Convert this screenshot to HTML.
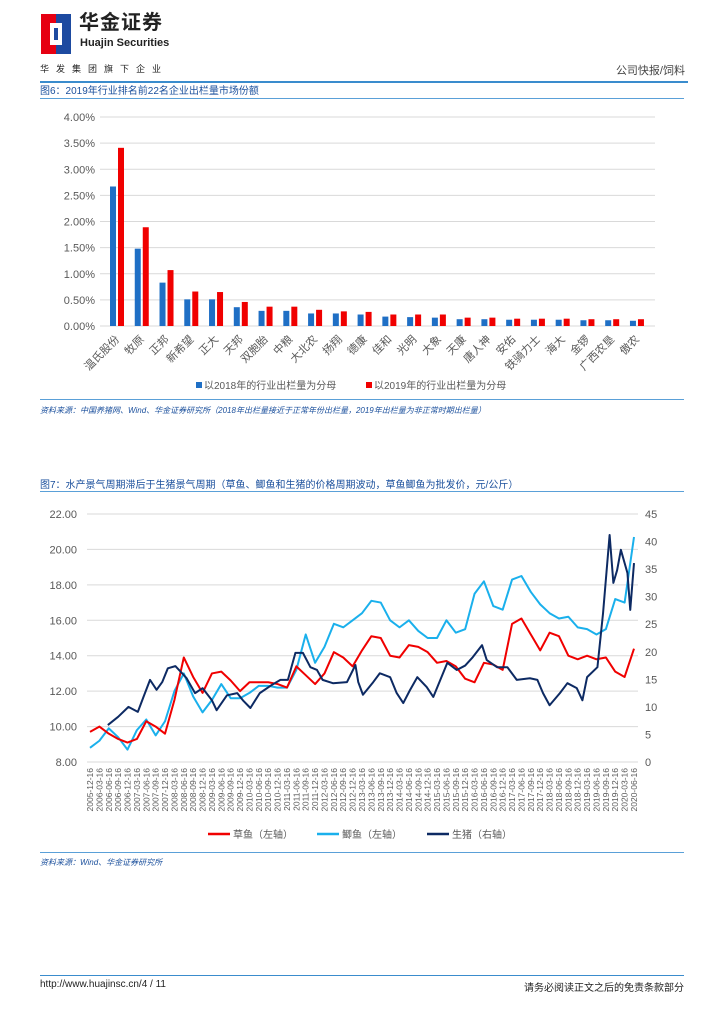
<!DOCTYPE html>
<html><head><meta charset="utf-8">
<style>
body{margin:0;background:#fff;font-family:"Liberation Sans","Noto Sans CJK SC",sans-serif;}
#page{position:relative;width:724px;height:1024px;overflow:hidden;background:#fff;}
.abs{position:absolute;}
svg text{font-family:"Liberation Sans","Noto Sans CJK SC",sans-serif;}
</style></head><body>
<div id="page">
 <div class="abs" style="left:41px;top:14px;width:30px;height:40px;">
  <svg width="30" height="40"><rect x="0" y="0" width="15" height="40" fill="#e60012"/><rect x="15" y="0" width="15" height="40" fill="#1d4aa0"/><rect x="9" y="9" width="12" height="22" fill="#fff"/><rect x="13" y="14" width="4" height="12" fill="#1d4aa0"/></svg>
 </div>
 <div class="abs" style="left:79px;top:11px;font-size:20px;line-height:24px;font-weight:bold;color:#222;letter-spacing:1px;">华金证券</div>
 <div class="abs" style="left:80px;top:37px;font-size:11px;line-height:12px;font-weight:bold;color:#222;">Huajin Securities</div>
 <div class="abs" style="left:40px;top:62px;font-size:9px;color:#222;letter-spacing:7px;">华发集团旗下企业</div>
 <div class="abs" style="right:39px;top:62px;font-size:11px;color:#444;">公司快报/饲料</div>
 <div class="abs" style="left:40px;top:81px;width:648px;height:2px;background:#3a8ccd;"></div>

 <div class="abs" style="left:40px;top:82px;font-size:10px;color:#1a4f9c;">图6：2019年行业排名前22名企业出栏量市场份额</div>
 <div class="abs" style="left:40px;top:98px;width:644px;height:1px;background:#5aa0d8;"></div>
 <svg class="abs" style="left:0;top:100px" width="724" height="300" id="c1"></svg>
 <div class="abs" style="left:40px;top:399px;width:644px;height:1px;background:#5aa0d8;"></div>
 <div class="abs" style="left:40px;top:405px;font-size:8px;font-style:italic;color:#1a4f9c;">资料来源：中国养猪网、Wind、华金证券研究所（2018年出栏量接近于正常年份出栏量，2019年出栏量为非正常时期出栏量）</div>

 <div class="abs" style="left:40px;top:476px;font-size:10px;color:#1a4f9c;">图7：水产景气周期滞后于生猪景气周期（草鱼、鲫鱼和生猪的价格周期波动，草鱼鲫鱼为批发价，元/公斤）</div>
 <div class="abs" style="left:40px;top:491px;width:644px;height:1px;background:#5aa0d8;"></div>
 <svg class="abs" style="left:0;top:495px" width="724" height="355" id="c2"></svg>
 <div class="abs" style="left:40px;top:852px;width:644px;height:1px;background:#5aa0d8;"></div>
 <div class="abs" style="left:40px;top:857px;font-size:8px;font-style:italic;color:#1a4f9c;">资料来源：Wind、华金证券研究所</div>

 <div class="abs" style="left:40px;top:975px;width:644px;height:1px;background:#3a8ccd;"></div>
 <div class="abs" style="left:40px;top:979px;font-size:10px;color:#222;">http://www.huajinsc.cn/4 / 11</div>
 <div class="abs" style="right:40px;top:979px;font-size:10px;color:#222;">请务必阅读正文之后的免责条款部分</div>
</div>
<script>
const NS="http://www.w3.org/2000/svg";
function mk(p,t,a){const e=document.createElementNS(NS,t);for(const k in a)e.setAttribute(k,a[k]);p.appendChild(e);return e;}

// ---- Chart 1 data ----
const companies=["温氏股份","牧原","正邦","新希望","正大","天邦","双胞胎","中粮","大北农","扬翔","德康","佳和","光明","大象","天康","唐人神","安佑","铁骑力士","海大","金锣","广西农垦","傲农"];
const share2018=[2.67,1.48,0.83,0.51,0.51,0.36,0.29,0.29,0.24,0.24,0.22,0.18,0.17,0.16,0.13,0.13,0.12,0.12,0.12,0.11,0.11,0.10];
const share2019=[3.41,1.89,1.07,0.66,0.65,0.46,0.37,0.37,0.31,0.28,0.27,0.22,0.22,0.22,0.16,0.16,0.14,0.14,0.14,0.13,0.13,0.13];
const shareTicks=[0,0.5,1,1.5,2,2.5,3,3.5,4];

(function(){
 const s=document.getElementById('c1');
 const y0=226,y1=17,x0=100,x1=655;
 const Y=v=>y0-(v/4)*(y0-y1);
 const X=i=>117+i*24.76;
 shareTicks.forEach(t=>{
  const l=mk(s,'line',{x1:x0,x2:x1,y1:Y(t),y2:Y(t),stroke:'#d9d9d9','stroke-width':1});
  
  
  const tx=mk(s,'text',{x:95,y:Y(t)+4,'text-anchor':'end','font-size':11,fill:'#595959'});
  tx.textContent=t.toFixed(2)+'%';
  
  
 });
 companies.forEach((c,i)=>{
  const b1=mk(s,'rect',{x:X(i)-7,y:Y(share2018[i]),width:6,height:y0-Y(share2018[i]),fill:'#1f6fc5'});
  
  
  const b2=mk(s,'rect',{x:X(i)+1,y:Y(share2019[i]),width:6,height:y0-Y(share2019[i]),fill:'#f00000'});
  
  
  const t=mk(s,'text',{x:X(i)+3,y:y0+14,'text-anchor':'end','font-size':11,fill:'#595959',transform:`rotate(-45 ${X(i)+3} ${y0+14})`});
  t.textContent=c;
  
  
 });
 const lg=[[196,'#1f6fc5','以2018年的行业出栏量为分母'],[366,'#f00000','以2019年的行业出栏量为分母']];
 lg.forEach(d=>{
  const r=mk(s,'rect',{x:d[0],y:282,width:6,height:6,fill:d[1]});
  
  
  const t=mk(s,'text',{x:d[0]+8,y:289,'font-size':10,fill:'#595959'});
  t.textContent=d[2];
  
  
 });
})();

// ---- Chart 2 data ----
const dateLabels=[];
(function(){for(let y=2005,m=12;y<2020||(y===2020&&m<=6);){dateLabels.push(y+'-'+String(m).padStart(2,'0')+'-16');m+=3;if(m>12){m-=12;y++;}}})();
const grassCarp=[9.7,10.0,9.6,9.3,9.1,9.3,10.3,10.0,9.6,11.5,13.9,12.8,11.9,13.0,13.1,12.6,12.0,12.5,12.5,12.5,12.4,12.2,13.4,12.9,12.4,13.0,14.2,13.9,13.4,14.3,15.1,15.0,14.0,13.9,14.6,14.5,14.2,13.6,13.7,13.4,12.7,12.5,13.6,13.5,13.2,15.8,16.1,15.2,14.3,15.3,15.1,14.0,13.8,14.0,13.8,13.9,13.1,12.8,14.4];
const crucianCarp=[8.8,9.2,9.9,9.4,8.7,9.8,10.4,9.5,10.3,12.0,13.0,11.7,10.8,11.5,12.4,11.6,11.6,11.9,12.3,12.3,12.2,12.2,13.2,15.2,13.6,14.5,15.8,15.6,16.0,16.4,17.1,17.0,16.0,15.6,16.0,15.4,15.0,15.0,16.0,15.3,15.5,17.5,18.2,16.8,16.6,18.3,18.5,17.6,16.9,16.4,16.1,16.2,15.6,15.5,15.2,15.5,17.2,17.0,20.7];
const hogQuarter=[1.9,3.0,4.1,5.1,5.7,6.4,7.1,7.7,8.3,9.1,9.6,10.3,11.2,12.0,13.0,13.5,14.6,15.7,16.3,17.1,18.1,19.4,20.3,21.1,21.9,22.7,23.5,24.2,24.8,25.9,27.4,28.3,28.6,29.1,30.2,30.9,32.0,32.7,33.4,34.1,34.9,35.9,36.6,38.1,39.1,40.0,40.8,41.8,42.3,43.4,44.5,45.5,46.9,47.7,48.3,49.0,50.1,50.9,51.9,52.5,53.0,54.1,54.7,55.4,55.8,56.2,56.6,57.3,57.6,58.0];
const hogPrice=[6.7,8.2,10.0,9.1,11.8,14.9,13.1,14.5,17.0,17.4,16.5,15.2,12.5,13.4,11.2,9.4,12.1,12.5,11.2,9.8,12.5,14.0,14.9,14.9,19.8,19.8,17.2,16.7,14.9,14.3,14.5,17.6,14.5,12.2,14.5,16.1,15.4,12.5,10.7,13.0,15.4,13.6,11.8,18.0,16.7,17.5,19.0,21.2,18.5,17.2,17.2,14.9,15.2,14.9,12.5,10.3,12.5,14.3,13.4,11.2,15.4,17.2,27.0,41.2,32.5,34.8,38.5,34.3,27.6,36.1];
const leftTicks=[8,10,12,14,16,18,20,22];
const rightTicks=[0,5,10,15,20,25,30,35,40,45];

(function(){
 const s=document.getElementById('c2');
 const top=19,bot=267,x0=90,x1=634,xEnd=638;
 const YL=v=>bot-(v-8)/14*(bot-top);
 const YR=v=>bot-v/45*(bot-top);
 const X=q=>x0+q*(x1-x0)/58;
 leftTicks.forEach(t=>{
  const l=mk(s,'line',{x1:x0-3,x2:xEnd,y1:YL(t),y2:YL(t),stroke:'#d9d9d9','stroke-width':1});
  
  
  const tx=mk(s,'text',{x:77,y:YL(t)+4,'text-anchor':'end','font-size':11,fill:'#595959'});
  tx.textContent=t.toFixed(2);
  
  
 });
 rightTicks.forEach(t=>{
  const tx=mk(s,'text',{x:645,y:YR(t)+4,'font-size':11,fill:'#595959'});
  tx.textContent=t;
  
  
 });
 dateLabels.forEach((d,i)=>{
  const tx=mk(s,'text',{x:X(i)+3,y:bot+6,'text-anchor':'end','font-size':8.5,fill:'#595959',transform:`rotate(-90 ${X(i)+3} ${bot+6})`});
  tx.textContent=d;
  
  
 });
 const line=(xs,ys,Y,c,n)=>{
  const p=mk(s,'polyline',{points:xs.map((q,i)=>X(q)+','+Y(ys[i])).join(' '),fill:'none',stroke:c,'stroke-width':2,'stroke-linejoin':'round'});
  
  
 };
 const idx=grassCarp.map((_,i)=>i);
 line(idx,crucianCarp,YL,'#1ab0ec','crucian-carp-line');
 line(idx,grassCarp,YL,'#f00000','grass-carp-line');
 line(hogQuarter,hogPrice,YR,'#0d2a63','live-hog-line');
 const lg=[[208,'#f00000','草鱼（左轴）'],[317,'#1ab0ec','鲫鱼（左轴）'],[427,'#0d2a63','生猪（右轴）']];
 lg.forEach(d=>{
  const l=mk(s,'line',{x1:d[0],x2:d[0]+22,y1:339,y2:339,stroke:d[1],'stroke-width':2.5});
  
  
  const t=mk(s,'text',{x:d[0]+25,y:343,'font-size':10,fill:'#595959'});
  t.textContent=d[2];
  
  
 });
})();
</script>
</body></html>
